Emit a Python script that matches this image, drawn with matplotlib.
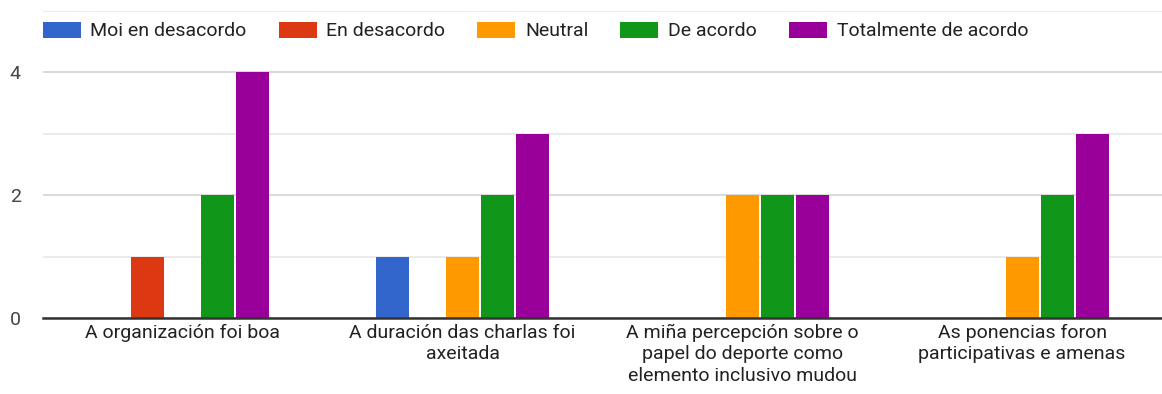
import matplotlib
matplotlib.use("Agg")
import matplotlib.pyplot as plt
import numpy as np

categories = [
    "A organización foi boa",
    "A duración das charlas foi\naxeitada",
    "A miña percepción sobre o\npapel do deporte como\nelemento inclusivo mudou",
    "As ponencias foron\nparticipativas e amenas",
]
series_names = ["Moi en desacordo", "En desacordo", "Neutral", "De acordo", "Totalmente de acordo"]
moi_en_desacordo = [0, 1, 0, 0]
en_desacordo = [1, 0, 0, 0]
neutral = [0, 1, 2, 1]
de_acordo = [2, 2, 2, 2]
totalmente_de_acordo = [4, 3, 2, 3]
series_values = [moi_en_desacordo, en_desacordo, neutral, de_acordo, totalmente_de_acordo]
colors = ["#3366cc", "#dc3912", "#ff9900", "#109618", "#990099"]
y_ticks = [0, 2, 4]

plt.rcParams['font.family'] = ['Roboto', 'DejaVu Sans']

fig = plt.figure(figsize=(11.62, 3.94), dpi=100)
ax = fig.add_axes([43/1162, 76/394, 1 - 43/1162, (318 - 10.5)/394])

x = np.arange(len(categories))
slot = 0.125
width = 0.118
handles = []
for i, (name, vals, c) in enumerate(zip(series_names, series_values, colors)):
    b = ax.bar(x + (i - 2) * slot, vals, width=width, color=c, label=name, linewidth=0, zorder=3)
    handles.append(b)

ax.set_xlim(-0.5, 3.5)
ax.set_ylim(0, 5)
ax.set_yticks(y_ticks)
ax.set_yticks([1, 3, 5], minor=True)
ax.grid(axis='y', which='major', color='#d3d3d3', linewidth=1.2, zorder=0)
ax.grid(axis='y', which='minor', color='#e8e8e8', linewidth=1.2, zorder=0)
ax.set_xticks(x)
ax.set_xticklabels(categories, fontsize=14, color='#222222', linespacing=1.27, va='top')
for s in ['top', 'right', 'left']:
    ax.spines[s].set_visible(False)
ax.spines['bottom'].set_color('#333333')
ax.spines['bottom'].set_linewidth(1.8)
ax.spines['bottom'].set_zorder(4)
ax.tick_params(axis='x', length=0, pad=4)
ax.tick_params(axis='y', which='both', length=0, pad=16, labelsize=14, labelcolor='#444444')

fig.legend(handles=handles, labels=series_names, loc='center left',
           bbox_to_anchor=(42.7/1162, 1 - 31/394), ncol=5, frameon=False,
           fontsize=14, handlelength=1.95, handleheight=0.93, handletextpad=0.5,
           columnspacing=1.65, borderpad=0, borderaxespad=0, labelcolor='#222222')

fig.savefig("out.png", dpi=100)
